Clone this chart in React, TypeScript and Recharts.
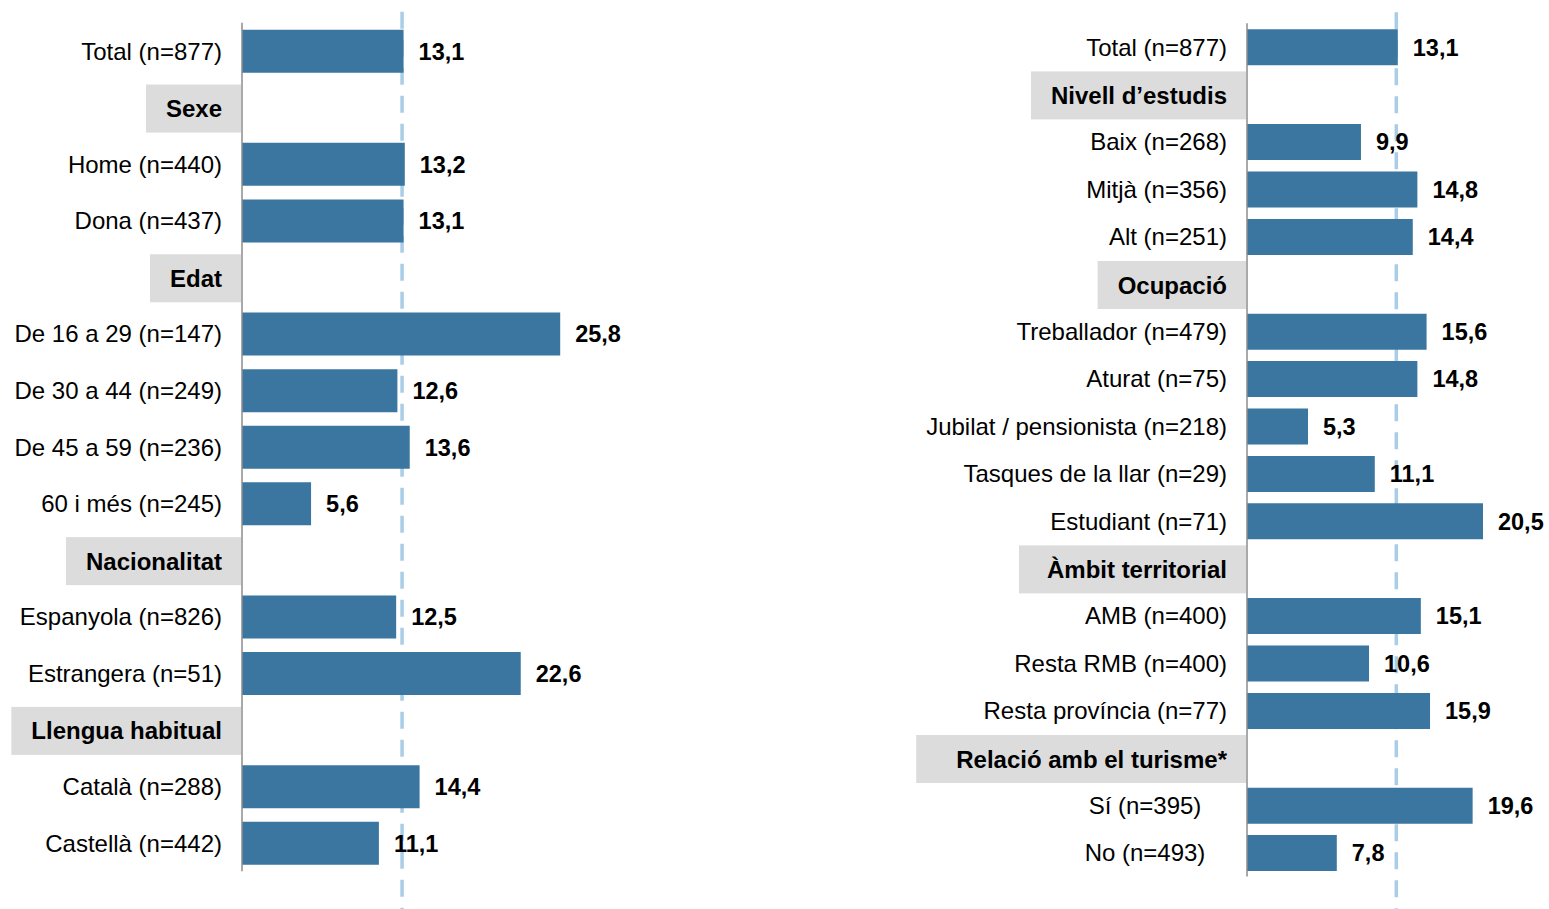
import React from 'react';
import { BarChart, Bar, XAxis, YAxis, ReferenceLine, LabelList } from 'recharts';

// Percentatges per grup (files de capçalera sense valor)
const leftCategories = [
  'Total (n=877)',
  'Sexe',
  'Home (n=440)',
  'Dona (n=437)',
  'Edat',
  'De 16 a 29 (n=147)',
  'De 30 a 44 (n=249)',
  'De 45 a 59 (n=236)',
  '60 i més (n=245)',
  'Nacionalitat',
  'Espanyola (n=826)',
  'Estrangera (n=51)',
  'Llengua habitual',
  'Català (n=288)',
  'Castellà (n=442)',
];
const leftValues = [13.1, null, 13.2, 13.1, null, 25.8, 12.6, 13.6, 5.6, null, 12.5, 22.6, null, 14.4, 11.1];
const leftHeaders = ['Sexe', 'Edat', 'Nacionalitat', 'Llengua habitual'];

const rightCategories = [
  'Total (n=877)',
  'Nivell d’estudis',
  'Baix (n=268)',
  'Mitjà (n=356)',
  'Alt (n=251)',
  'Ocupació',
  'Treballador (n=479)',
  'Aturat (n=75)',
  'Jubilat / pensionista (n=218)',
  'Tasques de la llar (n=29)',
  'Estudiant (n=71)',
  'Àmbit territorial',
  'AMB (n=400)',
  'Resta RMB (n=400)',
  'Resta província (n=77)',
  'Relació amb el turisme*',
  'Sí (n=395)',
  'No (n=493)',
];
const rightValues = [13.1, null, 9.9, 14.8, 14.4, null, 15.6, 14.8, 5.3, 11.1, 20.5, null, 15.1, 10.6, 15.9, null, 19.6, 7.8];
const rightHeaders = ['Nivell d’estudis', 'Ocupació', 'Àmbit territorial', 'Relació amb el turisme*'];
const centeredLabels = ['Sí (n=395)', 'No (n=493)'];

const totalValue = 13.1;

const barColor = '#3a76a0';
const refColor = '#a9cde6';
const headerBg = '#dcdcdc';
const fontFamily = '"Liberation Sans", Arial, sans-serif';

// algunes capçaleres tenen la caixa grisa una mica més ampla
const extraPad: Record<string, number> = { 'Àmbit territorial': 8, 'Relació amb el turisme*': 20 };

let ctx: CanvasRenderingContext2D | null = null;
const measure = (text: string, font: string) => {
  if (!ctx) ctx = document.createElement('canvas').getContext('2d');
  if (!ctx) return text.length * 13;
  ctx.font = font;
  return ctx.measureText(text).width;
};

const fmt = (v: any) => (v == null ? '' : Number(v).toFixed(1).replace('.', ','));

const makeTick = (headers: string[], boxH: number) => (props: any) => {
  const { x, y, payload } = props;
  const label = payload.value as string;
  if (headers.includes(label)) {
    const w = measure(label, `bold 24px ${fontFamily}`) + 40 + (extraPad[label] || 0);
    return (
      <g>
        <rect x={x - w} y={y - boxH / 2 + 1} width={w - 1} height={boxH} fill={headerBg} />
        <text x={x - 20} y={y} dy="0.4em" textAnchor="end" fontSize={24} fontWeight="bold" fontFamily={fontFamily} fill="#000">
          {label}
        </text>
      </g>
    );
  }
  if (centeredLabels.includes(label)) {
    return (
      <text x={x - 102} y={y} dy="0.36em" textAnchor="middle" fontSize={24} fontFamily={fontFamily} fill="#000">
        {label}
      </text>
    );
  }
  return (
    <text x={x - 20} y={y} dy="0.36em" textAnchor="end" fontSize={24} fontFamily={fontFamily} fill="#000">
      {label}
    </text>
  );
};

// línia discontínua que sobresurt de l'àrea del gràfic
const refShape = (props: any) => (
  <line
    x1={props.x1 - 1.5}
    x2={props.x2 - 1.5}
    y1={Math.min(props.y1, props.y2) - 11}
    y2={Math.max(props.y1, props.y2) + 60}
    stroke={refColor}
    strokeWidth={3.5}
    strokeDasharray="17 11"
  />
);

const Panel = ({ categories, values, headers, width, height, yWidth, margin, domainMax, barSize, boxH }: any) => {
  const data = categories.map((c: string, i: number) => ({ name: c, value: values[i] }));
  return (
    <BarChart
      layout="vertical"
      width={width}
      height={height}
      data={data}
      margin={margin}
      style={{ overflow: 'visible' }}
    >
      <XAxis type="number" domain={[0, domainMax]} hide height={0} />
      <YAxis
        type="category"
        dataKey="name"
        width={yWidth}
        tickLine={false}
        tickSize={0}
        tickMargin={0}
        axisLine={{ stroke: '#8c8c8c', strokeWidth: 1.5 }}
        tick={makeTick(headers, boxH)}
        interval={0}
      />
      <ReferenceLine x={totalValue} shape={refShape} ifOverflow="visible" zIndex={100} />
      <Bar dataKey="value" fill={barColor} barSize={barSize} isAnimationActive={false}>
        <LabelList
          dataKey="value"
          position="right"
          offset={15}
          formatter={fmt}
          style={{ fontSize: 23.5, fontWeight: 'bold', fontFamily, fill: '#000' }}
        />
      </Bar>
    </BarChart>
  );
};

export default function App() {
  return (
    <div style={{ position: 'absolute', left: 0, top: 0, width: 1549, height: 909, background: '#fff', overflow: 'hidden' }}>
      <div style={{ position: 'absolute', left: 0, top: 0 }}>
        <Panel
          categories={leftCategories}
          values={leftValues}
          headers={leftHeaders}
          width={700}
          height={909}
          yWidth={242}
          margin={{ top: 22.7, right: 88, bottom: 37.7, left: 0 }}
          domainMax={30}
          barSize={43}
          boxH={48}
        />
      </div>
      <div style={{ position: 'absolute', left: 760, top: 0 }}>
        <Panel
          categories={rightCategories}
          values={rightValues}
          headers={rightHeaders}
          width={789}
          height={909}
          yWidth={487}
          margin={{ top: 23.3, right: 14.2, bottom: 32.5, left: 0 }}
          domainMax={25}
          barSize={36}
          boxH={48}
        />
      </div>
    </div>
  );
}
